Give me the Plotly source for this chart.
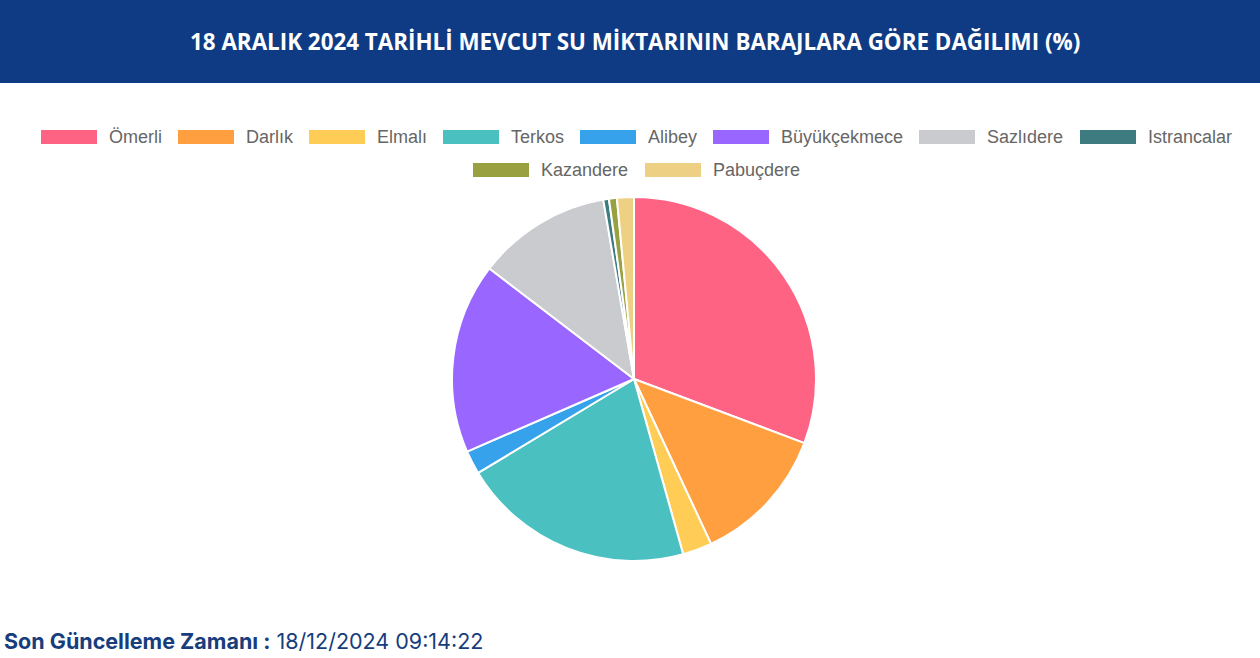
import plotly.graph_objects as go

W, H = 1260, 658

# dam names and their share of current water volume (%)
dams = ['Ömerli', 'Darlık', 'Elmalı', 'Terkos', 'Alibey', 'Büyükçekmece',
        'Sazlıdere', 'Istrancalar', 'Kazandere', 'Pabuçdere']
shares = [30.7, 12.3, 2.6, 20.7, 2.1, 16.9, 11.9, 0.5, 0.7, 1.5]
colors = ['#ff6384', '#ff9f40', '#ffcd56', '#4bc0c0', '#36a2eb', '#9966ff',
          '#c9cbcf', '#3d7b80', '#98a03f', '#edd083']

title_text = '18 ARALIK 2024 TARİHLİ MEVCUT SU MİKTARININ BARAJLARA GÖRE DAĞILIMI (%)'
updated_label = 'Son Güncelleme Zamanı :'
updated_value = '18/12/2024 09:14:22'

# legend box left edges (px) and rows, laid out like the page legend
legend_x = [41, 178, 309, 443, 580, 713, 919, 1080, 473, 645]
legend_row = [0, 0, 0, 0, 0, 0, 0, 0, 1, 1]
row_y = [137, 170]


def px(x):
    return x / W


def py_(y):
    return 1 - y / H


fig = go.Figure(go.Pie(
    labels=dams,
    values=shares,
    sort=False,
    direction='clockwise',
    rotation=0,
    textinfo='none',
    hovertemplate='%{label}: %{value}%<extra></extra>',
    marker=dict(colors=colors, line=dict(color='white', width=2)),
    domain=dict(x=[px(452), px(816)], y=[py_(561), py_(197)]),
    showlegend=False))

shapes = [dict(type='rect', xref='paper', yref='paper',
               x0=0, x1=1, y0=py_(83), y1=1,
               fillcolor='#0f3b85', line=dict(width=0), layer='below')]
annotations = [dict(text='<b>' + title_text + '</b>', xref='paper', yref='paper',
                    x=px(635), y=py_(41), xanchor='center', yanchor='middle',
                    showarrow=False,
                    font=dict(family='Open Sans', size=22.4, color='white'))]

for name, col, x0, r in zip(dams, colors, legend_x, legend_row):
    yc = row_y[r]
    shapes.append(dict(type='rect', xref='paper', yref='paper',
                       x0=px(x0), x1=px(x0 + 56), y0=py_(yc + 7), y1=py_(yc - 7),
                       fillcolor=col, line=dict(width=0)))
    annotations.append(dict(text=name, xref='paper', yref='paper',
                            x=px(x0 + 66), y=py_(yc), xanchor='left', yanchor='middle',
                            showarrow=False,
                            font=dict(family='Liberation Sans', size=18, color='#666666')))

annotations.append(dict(
    text='<b>' + updated_label + '</b> ' + updated_value,
    xref='paper', yref='paper', x=px(2), y=py_(641), xanchor='left', yanchor='middle',
    showarrow=False, font=dict(family='Inter', size=21.5, color='#173d7d')))

fig.update_layout(
    width=W, height=H,
    margin=dict(l=0, r=0, t=0, b=0),
    paper_bgcolor='white',
    shapes=shapes,
    annotations=annotations)

fig.write_html('out.html', config={'displayModeBar': False},
               post_script="document.body.style.margin='0';")
